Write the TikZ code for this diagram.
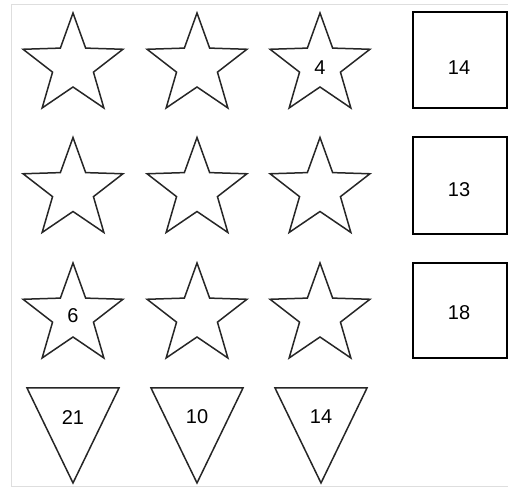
\documentclass[tikz,border=0pt]{standalone}
\usepackage{fontspec}
\setmainfont{Liberation Sans}
\tikzset{
  starline/.style={draw=black!85, line width=1.5pt, line join=miter, fill=white},
  boxline/.style={draw=black, line width=1.8pt, fill=white},
  triline/.style={draw=black!85, line width=1.5pt, fill=white},
  numtext/.style={font=\fontsize{20}{22}\selectfont, inner sep=0pt, text=black},
  frameline/.style={draw=black!13, line width=1pt}
}
\newcommand{\mystar}[2]{%
  \draw[starline] (#1,#2) ++(90:52.5pt)
    -- ($(#1,#2)+(126:21.5pt)$) -- ($(#1,#2)+(162:52.5pt)$)
    -- ($(#1,#2)+(198:21.5pt)$) -- ($(#1,#2)+(234:52.5pt)$)
    -- ($(#1,#2)+(270:21.5pt)$) -- ($(#1,#2)+(306:52.5pt)$)
    -- ($(#1,#2)+(342:21.5pt)$) -- ($(#1,#2)+(18:52.5pt)$)
    -- ($(#1,#2)+(54:21.5pt)$) -- cycle;}
\newcommand{\mytri}[2]{%
  \draw[triline] (#1-46,101) -- (#1+46,101) -- (#1,6) -- cycle;}
\usetikzlibrary{calc}
\begin{document}
\begin{tikzpicture}[x=1pt,y=1pt]
\useasboundingbox (0,0) rectangle (508,489);
\draw[frameline] (512,484) -- (11,484) -- (11,2) -- (512,2);
% stars
\foreach \cy in {423.5,299,173.5}{
  \foreach \cx in {73,197,320}{
    \mystar{\cx}{\cy}
  }
}
\node[numtext] (s3) at (320,421) {4};
\node[numtext] (s7) at (73,173) {6};
% squares
\node[boxline, minimum width=94pt, minimum height=96pt, inner sep=0pt] (b1) at (460,429) {};
\node[boxline, minimum width=94pt, minimum height=97pt, inner sep=0pt] (b2) at (460,303.5) {};
\node[boxline, minimum width=94pt, minimum height=95pt, inner sep=0pt] (b3) at (460,178.5) {};
\node[numtext] (t1) at (459,421) {14};
\node[numtext] (t2) at (459,299) {13};
\node[numtext] (t3) at (459,176) {18};
% triangles
\mytri{73}{0}
\mytri{197}{0}
\mytri{321}{0}
\node[numtext] (r1) at (73,71) {21};
\node[numtext] (r2) at (197,72) {10};
\node[numtext] (r3) at (321,72) {14};
\end{tikzpicture}
\end{document}
